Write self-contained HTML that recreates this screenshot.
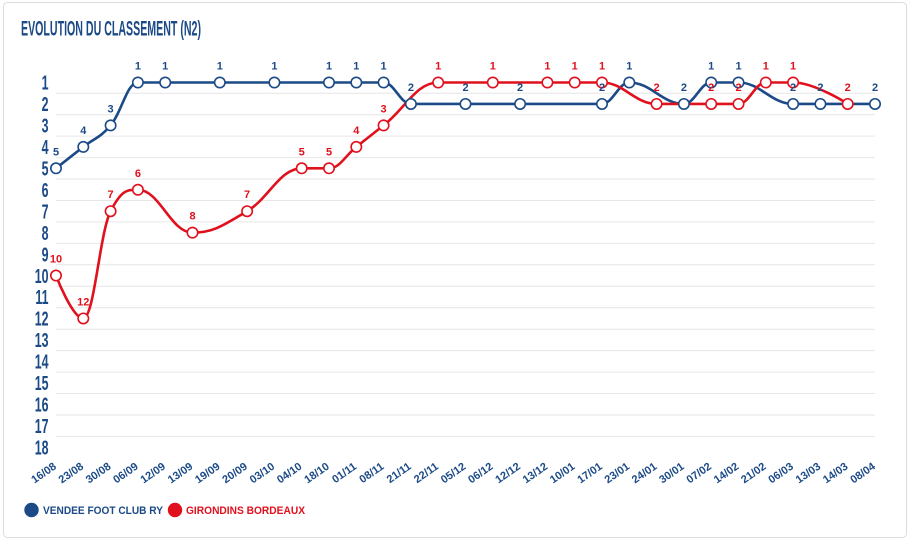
<!DOCTYPE html>
<html><head><meta charset="utf-8"><style>
html,body{margin:0;padding:0;background:#fff;}
svg{display:block;}
text{font-family:"Liberation Sans",Arial,sans-serif;}
</style></head><body>
<svg id="c" width="914" height="548" viewBox="0 0 914 548" xmlns="http://www.w3.org/2000/svg">
<rect x="3.5" y="2.5" width="903" height="535" rx="4" ry="4" fill="#fff" stroke="#dcdcdc" stroke-width="1"/>
<text x="21" y="35.5" font-size="21" font-weight="bold" fill="#1b4a86" textLength="180" lengthAdjust="spacingAndGlyphs">EVOLUTION DU CLASSEMENT (N2)</text>

<g stroke="#e6e6e6" stroke-width="1">
<line x1="56" x2="875" y1="93.2" y2="93.2"/><line x1="56" x2="875" y1="114.7" y2="114.7"/>
<line x1="56" x2="875" y1="136.1" y2="136.1"/><line x1="56" x2="875" y1="157.6" y2="157.6"/>
<line x1="56" x2="875" y1="179.0" y2="179.0"/><line x1="56" x2="875" y1="200.5" y2="200.5"/>
<line x1="56" x2="875" y1="221.9" y2="221.9"/><line x1="56" x2="875" y1="243.4" y2="243.4"/>
<line x1="56" x2="875" y1="264.8" y2="264.8"/><line x1="56" x2="875" y1="286.3" y2="286.3"/>
<line x1="56" x2="875" y1="307.7" y2="307.7"/><line x1="56" x2="875" y1="329.2" y2="329.2"/>
<line x1="56" x2="875" y1="350.6" y2="350.6"/><line x1="56" x2="875" y1="372.1" y2="372.1"/>
<line x1="56" x2="875" y1="393.5" y2="393.5"/><line x1="56" x2="875" y1="415.0" y2="415.0"/>
<line x1="56" x2="875" y1="436.4" y2="436.4"/>
</g>

<g font-size="20" font-weight="bold" fill="#1b4a86" text-anchor="end">
<text transform="translate(48.5,89.7) scale(0.62,1)">1</text>
<text transform="translate(48.5,111.2) scale(0.62,1)">2</text>
<text transform="translate(48.5,132.6) scale(0.62,1)">3</text>
<text transform="translate(48.5,154.1) scale(0.62,1)">4</text>
<text transform="translate(48.5,175.5) scale(0.62,1)">5</text>
<text transform="translate(48.5,197.0) scale(0.62,1)">6</text>
<text transform="translate(48.5,218.4) scale(0.62,1)">7</text>
<text transform="translate(48.5,239.9) scale(0.62,1)">8</text>
<text transform="translate(48.5,261.3) scale(0.62,1)">9</text>
<text transform="translate(48.5,282.8) scale(0.62,1)">10</text>
<text transform="translate(48.5,304.2) scale(0.62,1)">11</text>
<text transform="translate(48.5,325.7) scale(0.62,1)">12</text>
<text transform="translate(48.5,347.1) scale(0.62,1)">13</text>
<text transform="translate(48.5,368.6) scale(0.62,1)">14</text>
<text transform="translate(48.5,390.0) scale(0.62,1)">15</text>
<text transform="translate(48.5,411.5) scale(0.62,1)">16</text>
<text transform="translate(48.5,432.9) scale(0.62,1)">17</text>
<text transform="translate(48.5,454.4) scale(0.62,1)">18</text>
</g>

<g font-size="11" font-weight="bold" fill="#1b4a86" text-anchor="end">
<text transform="translate(57,468) rotate(-35)">16/08</text>
<text transform="translate(84.3,468) rotate(-35)">23/08</text>
<text transform="translate(111.6,468) rotate(-35)">30/08</text>
<text transform="translate(138.9,468) rotate(-35)">06/09</text>
<text transform="translate(166.2,468) rotate(-35)">12/09</text>
<text transform="translate(193.5,468) rotate(-35)">13/09</text>
<text transform="translate(220.8,468) rotate(-35)">19/09</text>
<text transform="translate(248.1,468) rotate(-35)">20/09</text>
<text transform="translate(275.4,468) rotate(-35)">03/10</text>
<text transform="translate(302.7,468) rotate(-35)">04/10</text>
<text transform="translate(330,468) rotate(-35)">18/10</text>
<text transform="translate(357.3,468) rotate(-35)">01/11</text>
<text transform="translate(384.6,468) rotate(-35)">08/11</text>
<text transform="translate(411.9,468) rotate(-35)">21/11</text>
<text transform="translate(439.2,468) rotate(-35)">22/11</text>
<text transform="translate(466.5,468) rotate(-35)">05/12</text>
<text transform="translate(493.8,468) rotate(-35)">06/12</text>
<text transform="translate(521.1,468) rotate(-35)">12/12</text>
<text transform="translate(548.4,468) rotate(-35)">13/12</text>
<text transform="translate(575.7,468) rotate(-35)">10/01</text>
<text transform="translate(603,468) rotate(-35)">17/01</text>
<text transform="translate(630.3,468) rotate(-35)">23/01</text>
<text transform="translate(657.6,468) rotate(-35)">24/01</text>
<text transform="translate(684.9,468) rotate(-35)">30/01</text>
<text transform="translate(712.2,468) rotate(-35)">07/02</text>
<text transform="translate(739.5,468) rotate(-35)">14/02</text>
<text transform="translate(766.8,468) rotate(-35)">21/02</text>
<text transform="translate(794.1,468) rotate(-35)">06/03</text>
<text transform="translate(821.4,468) rotate(-35)">13/03</text>
<text transform="translate(848.7,468) rotate(-35)">14/03</text>
<text transform="translate(876,468) rotate(-35)">08/04</text>
</g>

<path id="lb" fill="none" stroke="#1b4a86" stroke-width="2.6" stroke-linejoin="round" stroke-linecap="round"
 d="M56,168.3 L83.3,146.85 L110.6,125.4 L137.9,82.5 L165.2,82.5 L219.8,82.5 L274.4,82.5 L329,82.5 L356.3,82.5 L383.6,82.5 L410.9,103.95 L465.5,103.95 L520.1,103.95 L602,103.95 L629.3,82.5 L683.9,103.95 L711.2,82.5 L738.5,82.5 L793.1,103.95 L820.4,103.95 L875,103.95"/>
<path id="lr" fill="none" stroke="#e1101d" stroke-width="2.6" stroke-linejoin="round" stroke-linecap="round"
 d="M56,275.55 L83.3,318.45 L110.6,211.2 L137.9,189.75 L192.5,232.65 L247.1,211.2 L301.7,168.3 L329,168.3 L356.3,146.85 L383.6,125.4 L438.2,82.5 L492.8,82.5 L547.4,82.5 L574.7,82.5 L602,82.5 L656.6,103.95 L711.2,103.95 L738.5,103.95 L765.8,82.5 L793.1,82.5 L847.7,103.95"/>

<g fill="#fff" stroke="#1b4a86" stroke-width="1.6">
<circle cx="56" cy="168.3" r="5.2"/><circle cx="83.3" cy="146.85" r="5.2"/><circle cx="110.6" cy="125.4" r="5.2"/>
<circle cx="137.9" cy="82.5" r="5.2"/><circle cx="165.2" cy="82.5" r="5.2"/><circle cx="219.8" cy="82.5" r="5.2"/>
<circle cx="274.4" cy="82.5" r="5.2"/><circle cx="329" cy="82.5" r="5.2"/><circle cx="356.3" cy="82.5" r="5.2"/>
<circle cx="383.6" cy="82.5" r="5.2"/><circle cx="410.9" cy="103.95" r="5.2"/><circle cx="465.5" cy="103.95" r="5.2"/>
<circle cx="520.1" cy="103.95" r="5.2"/><circle cx="602" cy="103.95" r="5.2"/><circle cx="629.3" cy="82.5" r="5.2"/>
<circle cx="683.9" cy="103.95" r="5.2"/><circle cx="711.2" cy="82.5" r="5.2"/><circle cx="738.5" cy="82.5" r="5.2"/>
<circle cx="793.1" cy="103.95" r="5.2"/><circle cx="820.4" cy="103.95" r="5.2"/><circle cx="875" cy="103.95" r="5.2"/>
</g>
<g fill="#fff" stroke="#e1101d" stroke-width="1.6">
<circle cx="56" cy="275.55" r="5.2"/><circle cx="83.3" cy="318.45" r="5.2"/><circle cx="110.6" cy="211.2" r="5.2"/>
<circle cx="137.9" cy="189.75" r="5.2"/><circle cx="192.5" cy="232.65" r="5.2"/><circle cx="247.1" cy="211.2" r="5.2"/>
<circle cx="301.7" cy="168.3" r="5.2"/><circle cx="329" cy="168.3" r="5.2"/><circle cx="356.3" cy="146.85" r="5.2"/>
<circle cx="383.6" cy="125.4" r="5.2"/><circle cx="438.2" cy="82.5" r="5.2"/><circle cx="492.8" cy="82.5" r="5.2"/>
<circle cx="547.4" cy="82.5" r="5.2"/><circle cx="574.7" cy="82.5" r="5.2"/><circle cx="602" cy="82.5" r="5.2"/>
<circle cx="656.6" cy="103.95" r="5.2"/><circle cx="711.2" cy="103.95" r="5.2"/><circle cx="738.5" cy="103.95" r="5.2"/>
<circle cx="765.8" cy="82.5" r="5.2"/><circle cx="793.1" cy="82.5" r="5.2"/><circle cx="847.7" cy="103.95" r="5.2"/>
</g>

<g font-size="11" font-weight="bold" fill="#1b4a86" text-anchor="middle">
<text x="56" y="155.3">5</text><text x="83.3" y="133.85">4</text><text x="110.6" y="112.4">3</text>
<text x="137.9" y="69.5">1</text><text x="165.2" y="69.5">1</text><text x="219.8" y="69.5">1</text>
<text x="274.4" y="69.5">1</text><text x="329" y="69.5">1</text><text x="356.3" y="69.5">1</text>
<text x="383.6" y="69.5">1</text><text x="410.9" y="90.95">2</text><text x="465.5" y="90.95">2</text>
<text x="520.1" y="90.95">2</text><text x="602" y="90.95">2</text><text x="629.3" y="69.5">1</text>
<text x="683.9" y="90.95">2</text><text x="711.2" y="69.5">1</text><text x="738.5" y="69.5">1</text>
<text x="793.1" y="90.95">2</text><text x="820.4" y="90.95">2</text><text x="875" y="90.95">2</text>
</g>
<g font-size="11" font-weight="bold" fill="#e1101d" text-anchor="middle">
<text x="56" y="262.55">10</text><text x="83.3" y="305.45">12</text><text x="110.6" y="198.2">7</text>
<text x="137.9" y="176.75">6</text><text x="192.5" y="219.65">8</text><text x="247.1" y="198.2">7</text>
<text x="301.7" y="155.3">5</text><text x="329" y="155.3">5</text><text x="356.3" y="133.85">4</text>
<text x="383.6" y="112.4">3</text><text x="438.2" y="69.5">1</text><text x="492.8" y="69.5">1</text>
<text x="547.4" y="69.5">1</text><text x="574.7" y="69.5">1</text><text x="602" y="69.5">1</text>
<text x="656.6" y="90.95">2</text><text x="711.2" y="90.95">2</text><text x="738.5" y="90.95">2</text>
<text x="765.8" y="69.5">1</text><text x="793.1" y="69.5">1</text><text x="847.7" y="90.95">2</text>
</g>

<circle cx="31.5" cy="510" r="7.2" fill="#1b4a86"/>
<text x="43" y="514" font-size="11" font-weight="bold" fill="#1b4a86" textLength="120" lengthAdjust="spacingAndGlyphs">VENDEE FOOT CLUB RY</text>
<circle cx="175" cy="510" r="7.2" fill="#e1101d"/>
<text x="186" y="514" font-size="11" font-weight="bold" fill="#e1101d" textLength="119" lengthAdjust="spacingAndGlyphs">GIRONDINS BORDEAUX</text>
</svg>
<script>
(function(){
function spline(p){
  var s=1.5,d=s+1,n=p.length,c=[];
  for(var i=0;i<n;i++){
    if(i===0||i===n-1){c.push(null);continue;}
    var lx=p[i-1][0],ly=p[i-1][1],px=p[i][0],py=p[i][1],nx=p[i+1][0],ny=p[i+1][1];
    var lcx=(s*px+lx)/d,lcy=(s*py+ly)/d,rcx=(s*px+nx)/d,rcy=(s*py+ny)/d;
    if(rcx!==lcx){var k=((rcy-lcy)*(rcx-px))/(rcx-lcx)+py-rcy;lcy+=k;rcy+=k;}
    if(lcy>ly&&lcy>py){lcy=Math.max(ly,py);rcy=2*py-lcy;}else if(lcy<ly&&lcy<py){lcy=Math.min(ly,py);rcy=2*py-lcy;}
    if(rcy>ny&&rcy>py){rcy=Math.max(ny,py);lcy=2*py-rcy;}else if(rcy<ny&&rcy<py){rcy=Math.min(ny,py);lcy=2*py-rcy;}
    c.push([lcx,lcy,rcx,rcy]);
  }
  var out="M"+p[0][0]+","+p[0][1];
  for(var j=1;j<n;j++){
    var a=c[j-1],b=c[j];
    out+=" C"+(a?a[2]:p[j-1][0])+","+(a?a[3]:p[j-1][1])+" "+(b?b[0]:p[j][0])+","+(b?b[1]:p[j][1])+" "+p[j][0]+","+p[j][1];
  }
  return out;
}
function pts(d){return d.replace(/[ML]/g," ").trim().split(/\s+/).map(function(t){return t.split(",").map(Number);});}
["lb","lr"].forEach(function(id){var el=document.getElementById(id);el.setAttribute("d",spline(pts(el.getAttribute("d"))));});
})();
</script>
</body></html>
